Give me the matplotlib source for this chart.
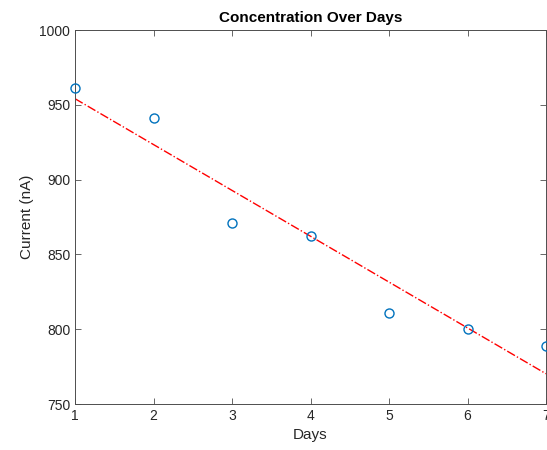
import matplotlib
matplotlib.use('Agg')
import matplotlib.pyplot as plt
import numpy as np

plt.rcParams.update({
    'font.family': 'sans-serif',
    'font.sans-serif': ['Liberation Sans', 'DejaVu Sans'],
    'font.size': 10,
})

# data
days = [1, 2, 3, 4, 5, 6, 7]
current = [961, 941, 871, 862, 811, 800, 789]

# linear trend through the points
fit = np.polyfit(days, current, 1)
fit_x = np.array([1, 7])
fit_y = np.polyval(fit, fit_x)

fig = plt.figure(figsize=(5.47, 4.5), dpi=100)
ax = fig.add_axes([75 / 547, 46 / 450, 471 / 547, 374 / 450])

ax.plot(days, current, 'o', mfc='none', mec='#0072BD', ms=6.5, mew=1.0, clip_on=False, zorder=3)
ax.plot(fit_x, fit_y, '-.', color='#FF0000', lw=1.0, zorder=2)

ax.set_xlim(1, 7)
ax.set_ylim(750, 1000)
ax.set_xticks(days)
ax.set_yticks([750, 800, 850, 900, 950, 1000])

axc = '#262626'
for s in ax.spines.values():
    s.set_color('#4d4d4d')
    s.set_linewidth(0.7)
ax.tick_params(direction='in', length=4, width=0.6, colors='#4d4d4d', labelcolor=axc,
               labelsize=10, top=True, right=True)
ax.set_xlabel('Days', fontsize=11, color=axc)
ax.set_ylabel('Current (nA)', fontsize=11, color=axc)
ax.set_title('Concentration Over Days', fontsize=11, fontweight='bold', color='black')

fig.savefig('out.png', dpi=100)
